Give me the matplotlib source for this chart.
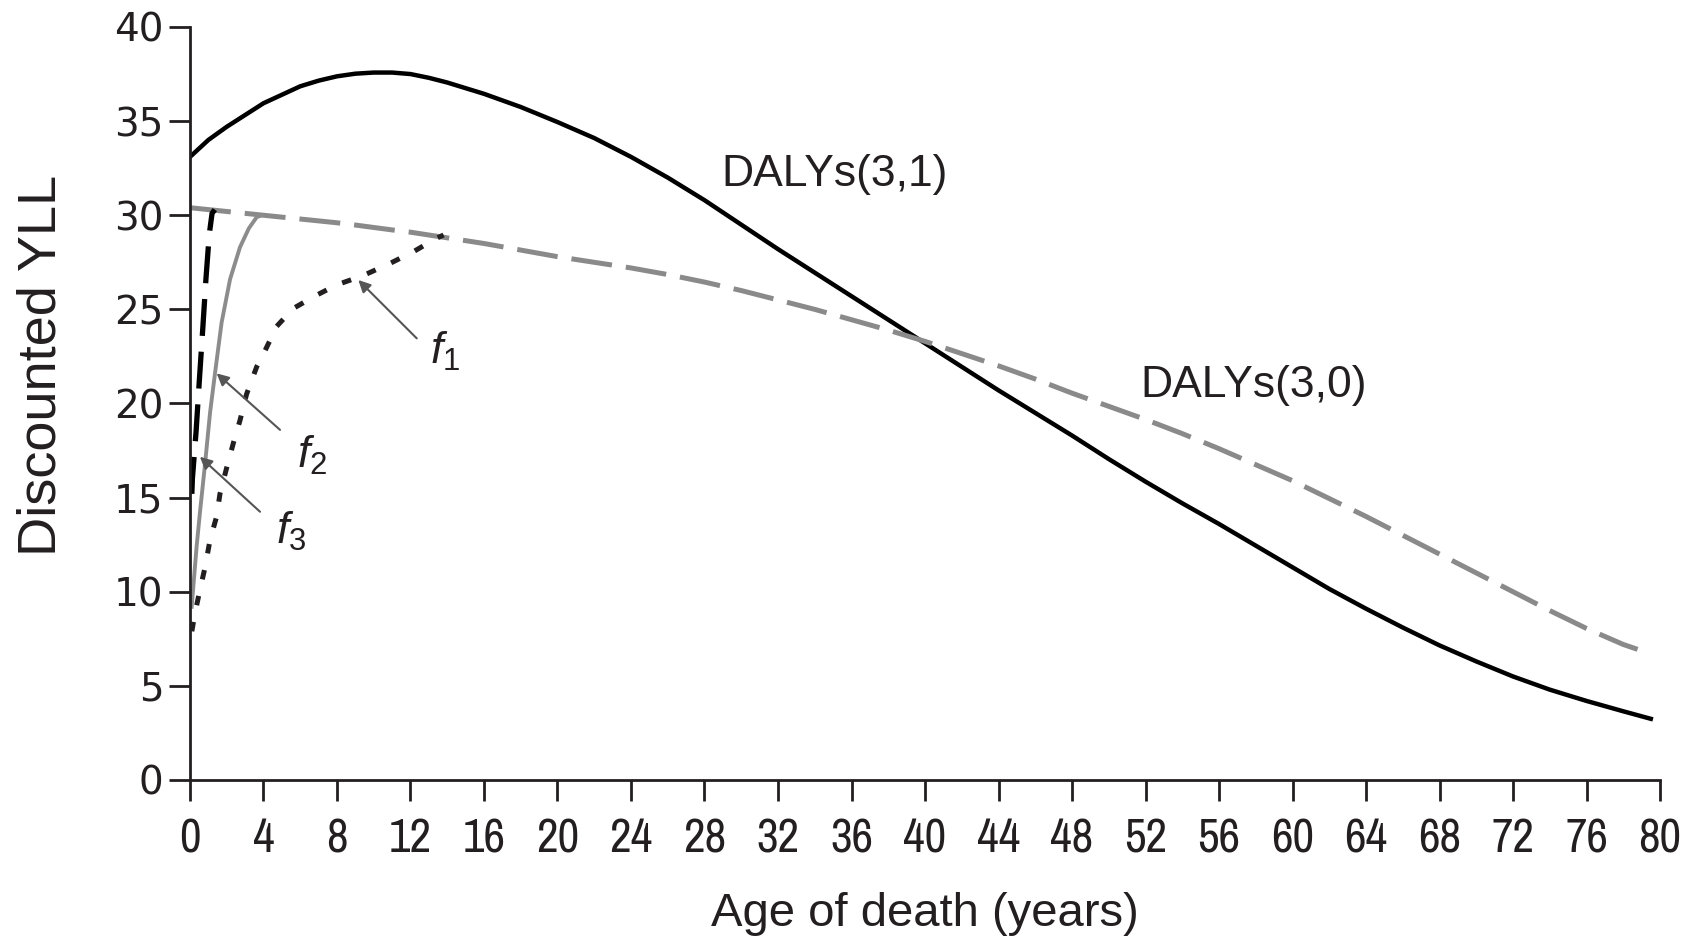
import matplotlib
matplotlib.use("Agg")
import matplotlib.pyplot as plt
from matplotlib import font_manager as fm
from matplotlib.transforms import blended_transform_factory

# ---------------- data ----------------
ages = [0, 1, 2, 4, 6, 7, 8, 9, 10, 11, 12, 13, 14, 16, 18, 20, 22, 24, 26, 28,
        30, 32, 34, 36, 38, 40, 42, 44, 46, 48, 50, 52, 54, 56, 58, 60, 62, 64,
        66, 68, 70, 72, 74, 76, 78, 79.5]
dalys_3_1 = [33.1, 34.0, 34.7, 35.95, 36.85, 37.15, 37.38, 37.52, 37.58, 37.58,
             37.5, 37.3, 37.05, 36.45, 35.75, 34.95, 34.1, 33.1, 32.0, 30.8,
             29.5, 28.2, 26.95, 25.7, 24.45, 23.2, 21.95, 20.7, 19.5, 18.3,
             17.05, 15.85, 14.7, 13.6, 12.45, 11.3, 10.15, 9.1, 8.1, 7.15,
             6.3, 5.5, 4.8, 4.2, 3.65, 3.25]
dalys_3_0 = [30.4, 30.3, 30.2, 30.0, 29.8, 29.7, 29.6, 29.48, 29.35, 29.22,
             29.1, 28.95, 28.8, 28.5, 28.15, 27.8, 27.5, 27.2, 26.85, 26.45,
             26.0, 25.5, 25.0, 24.45, 23.9, 23.3, 22.65, 22.0, 21.3, 20.55,
             19.85, 19.15, 18.4, 17.6, 16.75, 15.9, 14.95, 14.0, 13.0, 12.0,
             11.0, 10.0, 9.0, 8.05, 7.2, 6.7]

f1_x = [0.1, 0.27, 0.54, 0.82, 1.09, 1.45, 1.63, 2.0, 2.36, 2.72, 3.08, 3.63,
        4.08, 4.72, 5.62, 6.9, 7.98, 9.43, 10.9, 12.15, 13.4, 13.8]
f1_y = [7.9, 8.85, 10.1, 11.3, 12.75, 14.0, 15.2, 16.6, 17.9, 19.1, 20.5, 21.95,
        22.8, 24.1, 25.05, 25.76, 26.3, 26.8, 27.45, 28.06, 28.77, 28.95]
f2_x = [0.09, 0.36, 0.54, 0.82, 1.09, 1.36, 1.72, 2.18, 2.72, 3.2, 3.63, 3.9]
f2_y = [9.2, 12.4, 14.2, 16.8, 19.5, 21.6, 24.3, 26.6, 28.3, 29.3, 29.9, 30.0]
f3_x = [0.1, 0.13, 0.33, 0.51, 0.69, 0.87, 1.05, 1.2, 1.35]
f3_y = [15.2, 16.0, 18.5, 21.25, 23.9, 26.65, 29.0, 30.1, 30.3]

x_ticks = list(range(0, 81, 4))
y_ticks = list(range(0, 41, 5))

# ---------------- fonts ----------------
regular = "Liberation Sans"


def find_condensed():
    best = None
    best_rank = 99
    for f in fm.fontManager.ttflist:
        if f.style != "normal":
            continue
        try:
            w = int(f.weight)
        except (TypeError, ValueError):
            w = 400 if str(f.weight) in ("normal", "regular", "book") else 700
        if w != 400:
            continue
        name = f.name
        st = str(f.stretch)
        rank = None
        if name == "Liberation Sans Narrow":
            rank = 0
        elif "Condensed" in name or "Narrow" in name:
            rank = 1
        elif st in ("condensed", "extra-condensed", "ultra-condensed"):
            rank = 2
        elif st == "semi-condensed":
            rank = 3
        if rank is not None and rank < best_rank:
            best_rank = rank
            best = f.fname
    return best


cond_path = find_condensed()
if cond_path:
    tick_fp = fm.FontProperties(fname=cond_path, size=34)
else:
    tick_fp = fm.FontProperties(family=regular, size=31)

plt.rcParams["mathtext.fontset"] = "custom"
plt.rcParams["mathtext.it"] = regular + ":italic"
plt.rcParams["mathtext.rm"] = regular

TXT = "#231f20"

fig = plt.figure(figsize=(16.94, 9.39), dpi=100)
ax = fig.add_axes([0.11216, 0.16933, 0.86777, 0.80192])

ax.plot(ages, dalys_3_1, color="black", lw=3.2, solid_joinstyle="round")
ax.plot(ages, dalys_3_0, color="#8a8a8a", lw=3.6, dashes=(8.2, 2.8))
ax.plot(f2_x, f2_y, color="#8c8c8c", lw=2.8)
ax.plot(f3_x, f3_y, color="black", lw=3.8, dashes=(7.0, 3.0))
ax.plot(f1_x, f1_y, color=TXT, lw=3.6, dashes=(1.9, 3.4))

ax.set_xlim(0, 80)
ax.set_ylim(0, 40)
ax.set_xticks(x_ticks)
ax.set_yticks(y_ticks)

for s in ("top", "right"):
    ax.spines[s].set_visible(False)
for s in ("left", "bottom"):
    ax.spines[s].set_color(TXT)
    ax.spines[s].set_linewidth(2.0)

ax.tick_params(axis="both", direction="out", length=15, width=2.0, color=TXT)
ax.tick_params(axis="x", pad=12)
ax.tick_params(axis="y", pad=4)
for lab in ax.get_xticklabels():
    lab.set_fontproperties(tick_fp)
    lab.set_color(TXT)
for lab in ax.get_yticklabels():
    lab.set_fontfamily("DejaVu Sans")
    lab.set_fontsize(28)
    lab.set_color(TXT)

ax.set_xlabel("Age of death (years)", fontfamily=regular, fontsize=34, color=TXT)
ax.xaxis.set_label_coords(0.5, -0.149)
ax.xaxis.label.set_va("top")

ax.set_ylabel("Discounted YLL", fontfamily=regular, fontsize=39, color=TXT)
tr = blended_transform_factory(ax.transAxes, ax.transData)
ax.yaxis.set_label_coords(-0.101, 22.0, transform=tr)
ax.yaxis.label.set_va("center")
ax.yaxis.label.set_ha("center")
ax.yaxis.label.set_rotation_mode("default")

ax.text(28.94, 31.56, "DALYs(3,1)", fontfamily=regular, fontsize=32, color=TXT,
        ha="left", va="baseline")
ax.text(51.7, 20.37, "DALYs(3,0)", fontfamily=regular, fontsize=32, color=TXT,
        ha="left", va="baseline")

arrow_kw = dict(arrowstyle="-|>", lw=1.5, color="#555555", mutation_scale=18,
                shrinkA=0, shrinkB=0)
ax.annotate("", xy=(9.16, 26.56), xytext=(12.34, 23.46), arrowprops=arrow_kw)
ax.annotate("", xy=(1.45, 21.6), xytext=(4.9, 18.6), arrowprops=arrow_kw)
ax.annotate("", xy=(0.54, 17.17), xytext=(3.81, 14.25), arrowprops=arrow_kw)

ax.text(13.06, 22.1, r"$f_1$", fontsize=32, color=TXT, ha="left", va="baseline")
ax.text(5.8, 16.6, r"$f_2$", fontsize=32, color=TXT, ha="left", va="baseline")
ax.text(4.7, 12.57, r"$f_3$", fontsize=32, color=TXT, ha="left", va="baseline")

fig.savefig("out.png", dpi=100)
